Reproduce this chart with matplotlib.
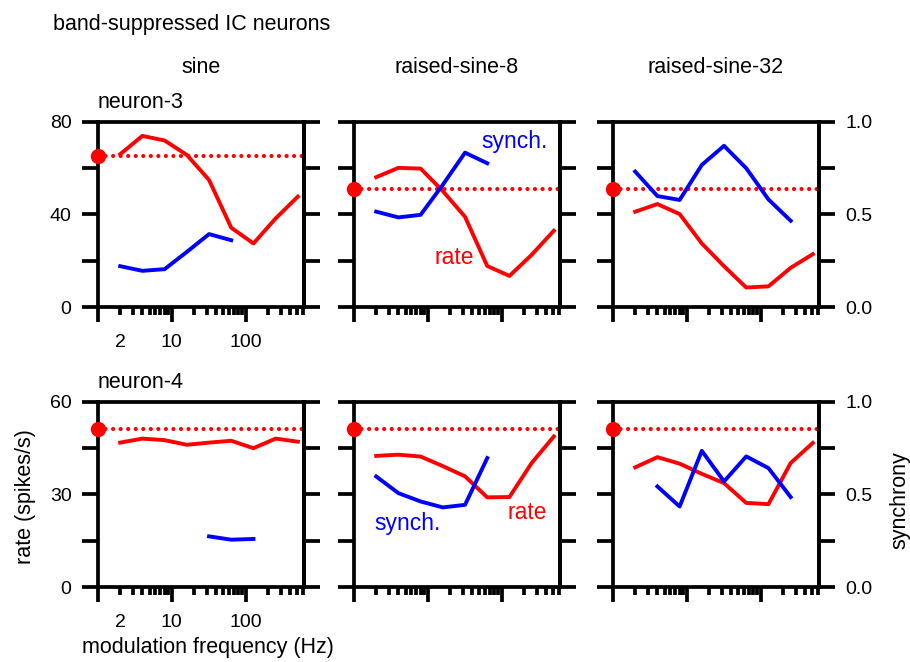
import numpy as np
import matplotlib.pyplot as plt

plt.rcParams['font.family'] = ['Liberation Sans', 'DejaVu Sans']

nan = np.nan
freq = [2, 4, 8, 16, 32, 64, 128, 256, 512]
stimuli = ['sine', 'raised-sine-8', 'raised-sine-32']
neurons = ['neuron-3', 'neuron-4']

# neuron-3 (top row): rate in spikes/s, synchrony 0..1
n3_rate = [
    [65.9, 73.8, 71.8, 65.6, 54.8, 34.2, 27.4, 38.2, 47.6],
    [56.0, 60.0, 59.7, 50.0, 38.9, 17.7, 13.4, 22.5, 32.9],
    [41.1, 44.4, 40.1, 27.4, 17.6, 8.4, 8.9, 16.9, 22.8],
]
n3_sync = [
    [0.22, 0.195, 0.204, 0.297, 0.393, 0.36, nan, nan, nan],
    [0.514, 0.483, 0.497, 0.659, 0.832, 0.775, nan, nan, nan],
    [0.73, 0.598, 0.577, 0.766, 0.869, 0.748, 0.58, 0.465, nan],
]
n3_spont = [65, 51, 51]

# neuron-4 (bottom row)
n4_rate = [
    [46.7, 48.0, 47.5, 46.0, 46.7, 47.3, 44.9, 48.0, 47.0],
    [42.4, 42.8, 42.2, 39.1, 35.8, 29.0, 29.1, 40.1, 48.7],
    [38.7, 42.0, 39.9, 36.6, 33.6, 27.2, 26.8, 40.1, 46.6],
]
n4_sync = [
    [nan, nan, nan, nan, 0.273, 0.255, 0.259, nan, nan],
    [0.596, 0.506, 0.461, 0.429, 0.443, 0.695, nan, nan, nan],
    [nan, 0.542, 0.434, 0.734, 0.569, 0.704, 0.641, 0.485, nan],
]
n4_spont = [51, 51, 51]

rates = [n3_rate, n4_rate]
syncs = [n3_sync, n4_sync]
sponts = [n3_spont, n4_spont]
rate_max = [80, 60]
rate_labels = [['0', '', '40', '', '80'], ['0', '', '30', '', '60']]
sync_labels = ['0.0', '', '0.5', '', '1.0']

minor_x = [2, 3, 4, 5, 6, 7, 8, 9, 20, 30, 40, 50, 60, 70, 80, 90,
           200, 300, 400, 500, 600]
minor_lab = ['2'] + [''] * (len(minor_x) - 1)

W, H = 910, 662
fig = plt.figure(figsize=(W / 100, H / 100), dpi=100)
lefts = [98, 354, 613]
bottoms = [307, 587]
pw, ph = 206, 185.5
lw_ax = 2.7
fs = 15.5

for r in range(2):
    for c in range(3):
        ax = fig.add_axes([lefts[c] / W, 1 - bottoms[r] / H, pw / W, ph / H])
        ax2 = ax.twinx()

        ax.plot(freq, rates[r][c], color='red', lw=2.8)
        ax2.plot(freq, syncs[r][c], color='blue', lw=2.8)
        ax.axhline(sponts[r][c], color='red', lw=3,
                   linestyle=(0, (0.01, 1.8)), dash_capstyle='round')
        ax.plot(1, sponts[r][c], 'o', color='red', ms=10,
                clip_on=False, zorder=6)

        ax.set_xscale('log')
        ax.set_xlim(1, 620)
        ax.set_ylim(0, rate_max[r])
        ax2.set_ylim(0, 1)

        ax.set_xticks([1, 10, 100],
                      labels=['', '10', '100'] if c == 0 else [''] * 3)
        ax.set_xticks(minor_x, minor=True,
                      labels=minor_lab if c == 0 else [''] * len(minor_x))
        ax.set_yticks(np.linspace(0, rate_max[r], 5),
                      labels=rate_labels[r] if c == 0 else [''] * 5)
        ax2.set_yticks([0, 0.25, 0.5, 0.75, 1.0],
                       labels=sync_labels if c == 2 else [''] * 5)

        ax.tick_params(axis='x', which='major', direction='out', length=10.8,
                       width=lw_ax, pad=8.5, labelsize=14)
        ax.tick_params(axis='x', which='minor', direction='out', length=5.8,
                       width=lw_ax, pad=13.7, labelsize=14)
        ax.tick_params(axis='y', direction='out', length=11.5, width=lw_ax,
                       pad=7.5, labelsize=14)
        ax2.tick_params(axis='y', direction='out', length=11.5, width=lw_ax,
                        pad=7.5, labelsize=14)
        for s in ax.spines.values():
            s.set_linewidth(lw_ax)
        for s in ['left', 'top', 'bottom']:
            ax2.spines[s].set_visible(False)
        ax2.spines['right'].set_linewidth(lw_ax)

        if r == 0:
            ax.text(0.5, 1.263, stimuli[c], transform=ax.transAxes,
                    ha='center', va='baseline', fontsize=fs)
        if c == 0:
            ax.text(0, 1.074, neurons[r], transform=ax.transAxes,
                    ha='left', va='baseline', fontsize=fs)
        if c == 1 and r == 0:
            ax.text(0.616, 0.892, 'synch.', color='blue', transform=ax.transAxes,
                    ha='left', va='center', fontsize=16.5)
            ax.text(0.39, 0.269, 'rate', color='red', transform=ax.transAxes,
                    ha='left', va='center', fontsize=16.5)
        if c == 1 and r == 1:
            ax.text(0.10, 0.341, 'synch.', color='blue', transform=ax.transAxes,
                    ha='left', va='center', fontsize=16.5)
            ax.text(0.745, 0.402, 'rate', color='red', transform=ax.transAxes,
                    ha='left', va='center', fontsize=16.5)

fig.text(52.7 / W, 1 - 30 / H, 'band-suppressed IC neurons',
         ha='left', va='baseline', fontsize=fs)
fig.text(208 / W, 1 - 653 / H, 'modulation frequency (Hz)',
         ha='center', va='baseline', fontsize=fs)
fig.text(26 / W, 1 - 497 / H, 'rate (spikes/s)', rotation=90,
         ha='center', va='center', fontsize=fs)
fig.text(900 / W, 1 - 500 / H, 'synchrony', rotation=90,
         ha='center', va='center', fontsize=fs)

fig.savefig('out.png', dpi=100)
